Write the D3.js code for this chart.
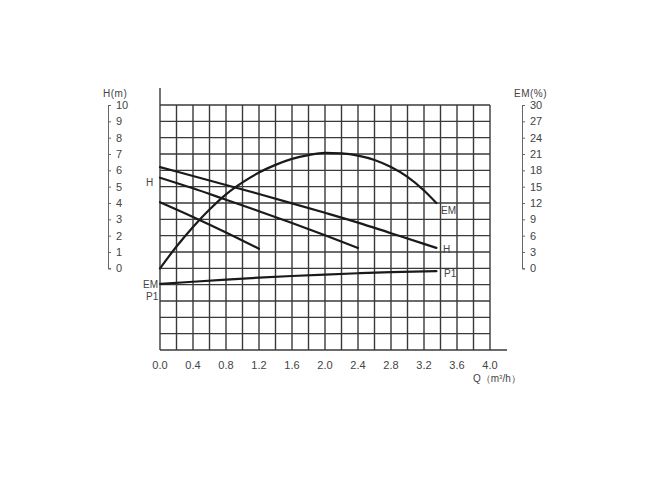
<!DOCTYPE html>
<html>
<head>
<meta charset="utf-8">
<script src="https://cdn.jsdelivr.net/npm/d3@7"></script>
<style>
  body { margin: 0; background: #fff; }
  svg { display: block; }
  text { font-family: 'Liberation Sans', Arial, sans-serif; fill: #444; }
</style>
</head>
<body>
<main></main>
<script>
// flow (m3/h) ticks
const qTicks = [0, 0.4, 0.8, 1.2, 1.6, 2.0, 2.4, 2.8, 3.2, 3.6, 4.0];
const hTicks = [0, 1, 2, 3, 4, 5, 6, 7, 8, 9, 10];
const emTicks = [0, 3, 6, 9, 12, 15, 18, 21, 24, 27, 30];

// head curves (three speeds)
const hHigh = [[0, 6.2], [0.4, 5.65], [0.8, 5.1], [1.2, 4.55], [1.6, 3.98], [2.0, 3.4], [2.4, 2.8], [2.8, 2.15], [3.2, 1.5], [3.35, 1.25]];
const hMid = [[0, 5.55], [0.4, 4.9], [0.8, 4.2], [1.2, 3.5], [1.6, 2.78], [2.0, 2.03], [2.4, 1.25]];
const hLow = [[0, 4.05], [0.4, 3.15], [0.8, 2.2], [1.2, 1.2]];

// efficiency (%)
const emCurve = [[0, 0], [0.2, 4.0], [0.4, 7.6], [0.6, 10.8], [0.8, 13.6], [1.0, 15.8], [1.2, 17.6], [1.4, 19.0], [1.6, 20.1], [1.8, 20.8], [2.0, 21.2], [2.2, 21.1], [2.4, 20.7], [2.6, 19.9], [2.8, 18.6], [3.0, 16.8], [3.2, 14.3], [3.35, 12.0]];

// input power, in grid units (no own axis)
const p1Curve = [[0, -0.96], [0.4, -0.82], [0.8, -0.69], [1.2, -0.57], [1.6, -0.47], [2.0, -0.38], [2.4, -0.3], [2.8, -0.23], [3.35, -0.17]];

const width = 650;
const height = 486;

const svg = d3.select('main')
  .append('svg')
  .attr('width', width)
  .attr('height', height)

const x = d3.scaleLinear().domain([0, 4]).range([160, 490]);
// grid spans -5..10 in head units
const y = d3.scaleLinear().domain([-5, 10]).range([350, 105]);
const yEM = d3.scaleLinear().domain([-15, 30]).range([350, 105]);

// Grid
const grid = svg.append('g')
  .attr('stroke', '#3a3a3a')
  .attr('stroke-width', 1.4)

grid.selectAll('line.v')
  .data(d3.range(0, 21).map(i => i * 0.2))
  .enter()
  .append('line')
  .attr('x1', d => x(d))
  .attr('x2', d => x(d))
  .attr('y1', (d, i) => i === 0 ? 88 : y(10))
  .attr('y2', y(-5))

grid.selectAll('line.h')
  .data(d3.range(-5, 11))
  .enter()
  .append('line')
  .attr('x1', x(0))
  .attr('x2', d => d === -5 ? 507 : x(4))
  .attr('y1', d => y(d))
  .attr('y2', d => y(d))

// Left axis
const leftAxis = svg.append('g')
  .attr('transform', 'translate(108,0)')
  .call(d3.axisRight(d3.scaleLinear().domain([0, 10]).range([y(0), y(10)]))
    .tickValues(hTicks).tickSize(3).tickPadding(5))
leftAxis.select('.domain').attr('stroke', '#666')
leftAxis.selectAll('line').attr('stroke', '#666')
leftAxis.selectAll('text').style('font-size', '11px').attr('fill', '#444')

svg.append('text')
  .attr('x', 103).attr('y', 97)
  .style('font-size', '10px')
  .style('letter-spacing', '0.5px')
  .text('H(m)')

// Right axis
const rightAxis = svg.append('g')
  .attr('transform', 'translate(522,0)')
  .call(d3.axisRight(d3.scaleLinear().domain([0, 30]).range([yEM(0), yEM(30)]))
    .tickValues(emTicks).tickSize(3).tickPadding(5))
rightAxis.select('.domain').attr('stroke', '#666')
rightAxis.selectAll('line').attr('stroke', '#666')
rightAxis.selectAll('text').style('font-size', '11px').attr('fill', '#444')

svg.append('text')
  .attr('x', 514).attr('y', 97)
  .style('font-size', '10px')
  .style('letter-spacing', '0.5px')
  .text('EM(%)')

// Bottom labels
svg.append('g')
  .selectAll('text')
  .data(qTicks)
  .enter()
  .append('text')
  .attr('x', d => x(d))
  .attr('y', 369)
  .attr('text-anchor', 'middle')
  .style('font-size', '11px')
  .text(d => d.toFixed(1))

const qLabel = svg.append('text')
  .attr('x', 473).attr('y', 382)
  .style('font-size', '10px')
qLabel.append('tspan').text('Q（m')
qLabel.append('tspan').attr('dy', -3).style('font-size', '6px').text('3')
qLabel.append('tspan').attr('dy', 3).text('/h）')

// Curves
const lineH = d3.line().x(d => x(d[0])).y(d => y(d[1])).curve(d3.curveMonotoneX);
const lineEM = d3.line().x(d => x(d[0])).y(d => yEM(d[1])).curve(d3.curveMonotoneX);

const curves = svg.append('g')
  .attr('fill', 'none')
  .attr('stroke', '#1a1a1a')
  .attr('stroke-width', 2.2)
  .attr('stroke-linecap', 'round')

;[hHigh, hMid, hLow].forEach(c => curves.append('path').attr('d', lineH(c)))
curves.append('path').attr('d', lineEM(emCurve))
curves.append('path').attr('d', lineH(p1Curve))

// Curve labels
const labels = [
  { t: 'H', x: 146, y: 186 },
  { t: 'EM', x: 143, y: 288 },
  { t: 'P1', x: 146, y: 300 },
  { t: 'EM', x: 441, y: 214 },
  { t: 'H', x: 443, y: 253 },
  { t: 'P1', x: 444, y: 277 }
];
svg.append('g')
  .selectAll('text')
  .data(labels)
  .enter()
  .append('text')
  .attr('x', d => d.x)
  .attr('y', d => d.y)
  .style('font-size', '10px')
  .text(d => d.t)
</script>
</body>
</html>
